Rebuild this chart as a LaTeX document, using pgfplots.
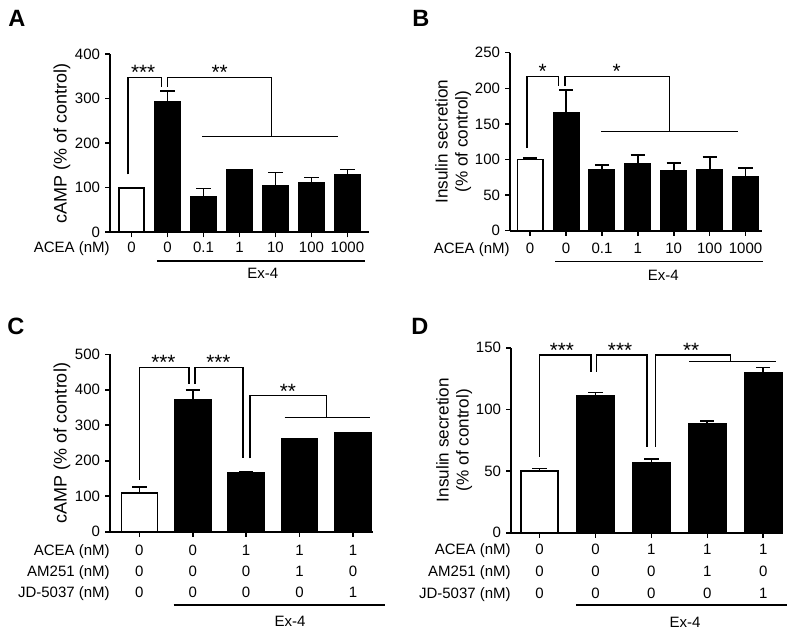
\documentclass[border=0pt]{standalone}
\usepackage{fontspec}
\setmainfont{Liberation Sans}
\usepackage{pgfplots}
\usepackage{pgfplotstable}
\pgfplotsset{compat=1.18}

% Panel A: cAMP, ACEA dose
\pgfplotstableread{
x y e
0 100 0.5
}\tabAw
\pgfplotstableread{
x y e
1 293 24
2 79 19
3 140 1
4 104 30
5 111 12
6 128 13
}\tabAb
% Panel B: insulin, ACEA dose
\pgfplotstableread{
x y e
0 100 2
}\tabBw
\pgfplotstableread{
x y e
1 165 33
2 85 7
3 94 12
4 84 11
5 85 19
6 75 13
}\tabBb
% Panel C: cAMP, antagonists
\pgfplotstableread{
x y e
0 110 17
}\tabCw
\pgfplotstableread{
x y e
1 371 28
2 166 3
3 263 0
4 279 0
}\tabCb
% Panel D: insulin, antagonists
\pgfplotstableread{
x y e
0 50.3 1.7
}\tabDw
\pgfplotstableread{
x y e
1 110.8 3
2 56.8 2.9
3 88.6 1.9
4 130 4
}\tabDb

\newcommand\tfont{\fontsize{10.5}{12}\selectfont}
\newcommand\sfont{\fontsize{14.5}{16}\selectfont}

\pgfplotsset{
  panel/.style={
    scale only axis,
    anchor=south west,
    axis x line*=bottom,
    axis y line*=left,
    axis line style={line width=1.3pt,-},
    tick align=outside,
    tick pos=left,
    major tick length=3.5pt,
    every tick/.style={line width=1.1pt,black},
    ymin=0,
    xticklabels={,,,,,,,},
    clip=false,
    ylabel style={font=\fontsize{12}{14}\selectfont, align=center, anchor=center},
    yticklabel style={font=\tfont},
    /pgf/number format/assume math mode=true,
    ybar,
  },
  wbar/.style={fill=white, draw=black, line width=1.2pt, bar shift=0pt,
    error bars/.cd, y dir=plus, y explicit,
    error bar style={line width=1.2pt,black},
    error mark options={rotate=90, mark size=5pt, line width=1.2pt,black}},
  bbar/.style={fill=black, draw=black, line width=1.2pt, bar shift=0pt,
    error bars/.cd, y dir=plus, y explicit,
    error bar style={line width=1.2pt,black},
    error mark options={rotate=90, mark size=5pt, line width=1.2pt,black}},
}
\tikzset{
  brk/.style={line width=0.9pt, black},
  star/.style={font=\sfont, anchor=south, inner sep=0pt, yshift=-2pt},
  lab/.style={font=\tfont, anchor=base, inner sep=0pt},
  rowlab/.style={font=\tfont, anchor=base east, inner sep=0pt},
  letter/.style={font=\fontsize{16.5}{18}\selectfont\bfseries, inner sep=0pt},
}
% one tick-label row: #1 = yshift, #2 = list of x/text
\newcommand\labrow[2]{%
  \foreach \ii/\tt in {#2}{%
    \edef\temp{\noexpand\node[lab] at (axis cs:\ii,0) [yshift=#1] {\tt};}%
    \temp}}

\begin{document}
\begin{tikzpicture}
\path[use as bounding box] (0,0) rectangle (560pt,-443.8pt);

\node[letter] at (11.9pt,-12.6pt) {A};
\node[letter] at (294.7pt,-12.6pt) {B};
\node[letter] at (11.2pt,-228.2pt) {C};
\node[letter] at (294pt,-228.2pt) {D};

% ---------------- A ----------------
\begin{axis}[panel, at={(77pt,-162.6pt)}, width=181.3pt, height=124.8pt,
  xmin=-0.6, xmax=6.6, ymax=400, xtick={0,...,6}, ytick={0,100,...,400},
  bar width=17.3pt,
  ylabel={cAMP (\% of control)},
  ylabel style={font=\fontsize{12.6}{14}\selectfont, at={(axis description cs:-0.185,0.5)}}]
\addplot[wbar] table[x=x,y=y,y error=e] {\tabAw};
\addplot[bbar] table[x=x,y=y,y error=e] {\tabAb};
\draw[brk] (axis cs:-0.1,130) |- (axis cs:0.83,348) -- (axis cs:0.83,327);
\draw[brk] (axis cs:0.99,327) |- (axis cs:3.88,348) -- (axis cs:3.88,215);
\draw[brk] (axis cs:1.97,215) -- (axis cs:5.75,215);
\node[star] at (axis cs:0.32,348) {***};
\node[star] at (axis cs:2.45,348) {**};
\labrow{-14.5pt}{0/0,1/0,2/0.1,3/1,4/10,5/100,6/1000}
\node[rowlab] at (rel axis cs:0,0) [yshift=-14.5pt] {ACEA (nM)};
\draw[line width=0.9pt] ([yshift=-20.1pt]axis cs:0.7,0) -- ([yshift=-20.1pt]axis cs:6.5,0);
\node[lab] at (axis cs:3.65,0) [yshift=-32.6pt] {Ex-4};
\end{axis}

% ---------------- B ----------------
\begin{axis}[panel, at={(357pt,-161.5pt)}, width=176.2pt, height=124.6pt,
  xmin=-0.56, xmax=6.45, ymax=250, xtick={0,...,6}, ytick={0,50,...,250},
  bar width=17.7pt,
  ylabel={Insulin secretion\\(\% of control)},
  ylabel style={at={(axis description cs:-0.226,0.5)}}]
\addplot[wbar] table[x=x,y=y,y error=e] {\tabBw};
\addplot[bbar] table[x=x,y=y,y error=e] {\tabBb};
\draw[brk] (axis cs:-0.09,116) |- (axis cs:0.79,217) -- (axis cs:0.79,203);
\draw[brk] (axis cs:0.97,203) |- (axis cs:3.88,217) -- (axis cs:3.88,139);
\draw[brk] (axis cs:1.98,139) -- (axis cs:5.8,139);
\node[star] at (axis cs:0.35,217) {*};
\node[star] at (axis cs:2.41,217) {*};
\labrow{-15.8pt}{0/0,1/0,2/0.1,3/1,4/10,5/100,6/1000}
\node[rowlab] at (rel axis cs:0,0) [yshift=-15.8pt] {ACEA (nM)};
\draw[line width=0.9pt] ([yshift=-21.7pt]axis cs:0.7,0) -- ([yshift=-21.7pt]axis cs:6.49,0);
\node[lab] at (axis cs:3.71,0) [yshift=-34.6pt] {Ex-4};
\end{axis}

% ---------------- C ----------------
\begin{axis}[panel, at={(77pt,-372.2pt)}, width=183.9pt, height=124.2pt,
  xmin=-0.55, xmax=4.37, ymax=500, xtick={0,...,4}, ytick={0,100,...,500},
  bar width=25.2pt,
  ylabel={cAMP (\% of control)},
  ylabel style={font=\fontsize{12.6}{14}\selectfont, at={(axis description cs:-0.183,0.5)}}]
\addplot[wbar] table[x=x,y=y,y error=e] {\tabCw};
\addplot[bbar] table[x=x,y=y,y error=e] {\tabCb};
\draw[brk] (axis cs:0,146) |- (axis cs:0.93,463) -- (axis cs:0.93,416);
\draw[brk] (axis cs:1.04,416) |- (axis cs:1.94,463) -- (axis cs:1.94,207);
\draw[brk] (axis cs:2.07,207) |- (axis cs:3.5,383) -- (axis cs:3.5,322);
\draw[brk] (axis cs:2.72,322) -- (axis cs:4.32,322);
\node[star] at (axis cs:0.45,463) {***};
\node[star] at (axis cs:1.48,463) {***};
\node[star] at (axis cs:2.78,383) {**};
\labrow{-16.8pt}{0/0,1/0,2/1,3/1,4/1}
\labrow{-31.5pt}{0/0,1/0,2/0,3/1,4/0}
\labrow{-45.9pt}{0/0,1/0,2/0,3/0,4/1}
\node[rowlab] at (rel axis cs:0,0) [yshift=-16.8pt] {ACEA (nM)};
\node[rowlab] at (rel axis cs:0,0) [yshift=-31.5pt] {AM251 (nM)};
\node[rowlab] at (rel axis cs:0,0) [yshift=-45.9pt] {JD-5037 (nM)};
\draw[line width=0.9pt] ([yshift=-51.3pt]axis cs:0.64,0) -- ([yshift=-51.3pt]axis cs:4.6,0);
\node[lab] at (axis cs:2.82,0) [yshift=-66.5pt] {Ex-4};
\end{axis}

% ---------------- D ----------------
\begin{axis}[panel, at={(357.7pt,-372.9pt)}, width=189.5pt, height=129.5pt,
  xmin=-0.51, xmax=4.33, ymax=150, xtick={0,...,4}, ytick={0,50,100,150},
  bar width=26.1pt,
  ylabel={Insulin secretion\\(\% of control)},
  ylabel style={at={(axis description cs:-0.21,0.5)}}]
\addplot[wbar] table[x=x,y=y,y error=e] {\tabDw};
\addplot[bbar] table[x=x,y=y,y error=e] {\tabDb};
\draw[brk] (axis cs:0,61.6) |- (axis cs:0.92,144) -- (axis cs:0.92,130.5);
\draw[brk] (axis cs:1.02,130.5) |- (axis cs:1.92,144) -- (axis cs:1.92,69.7);
\draw[brk] (axis cs:2.07,69.7) |- (axis cs:3.42,144) -- (axis cs:3.42,138.6);
\draw[brk] (axis cs:2.68,138.6) -- (axis cs:4.22,138.6);
\node[star] at (axis cs:0.4,144) {***};
\node[star] at (axis cs:1.44,144) {***};
\node[star] at (axis cs:2.71,144) {**};
\labrow{-14.9pt}{0/0,1/0,2/1,3/1,4/1}
\labrow{-30.3pt}{0/0,1/0,2/0,3/1,4/0}
\labrow{-45.7pt}{0/0,1/0,2/0,3/0,4/1}
\node[rowlab] at (rel axis cs:0,0) [yshift=-14.9pt] {ACEA (nM)};
\node[rowlab] at (rel axis cs:0,0) [yshift=-30.3pt] {AM251 (nM)};
\node[rowlab] at (rel axis cs:0,0) [yshift=-45.7pt] {JD-5037 (nM)};
\draw[line width=0.9pt] ([yshift=-50.6pt]axis cs:0.65,0) -- ([yshift=-50.6pt]axis cs:4.43,0);
\node[lab] at (axis cs:2.6,0) [yshift=-66pt] {Ex-4};
\end{axis}
\end{tikzpicture}
\end{document}
